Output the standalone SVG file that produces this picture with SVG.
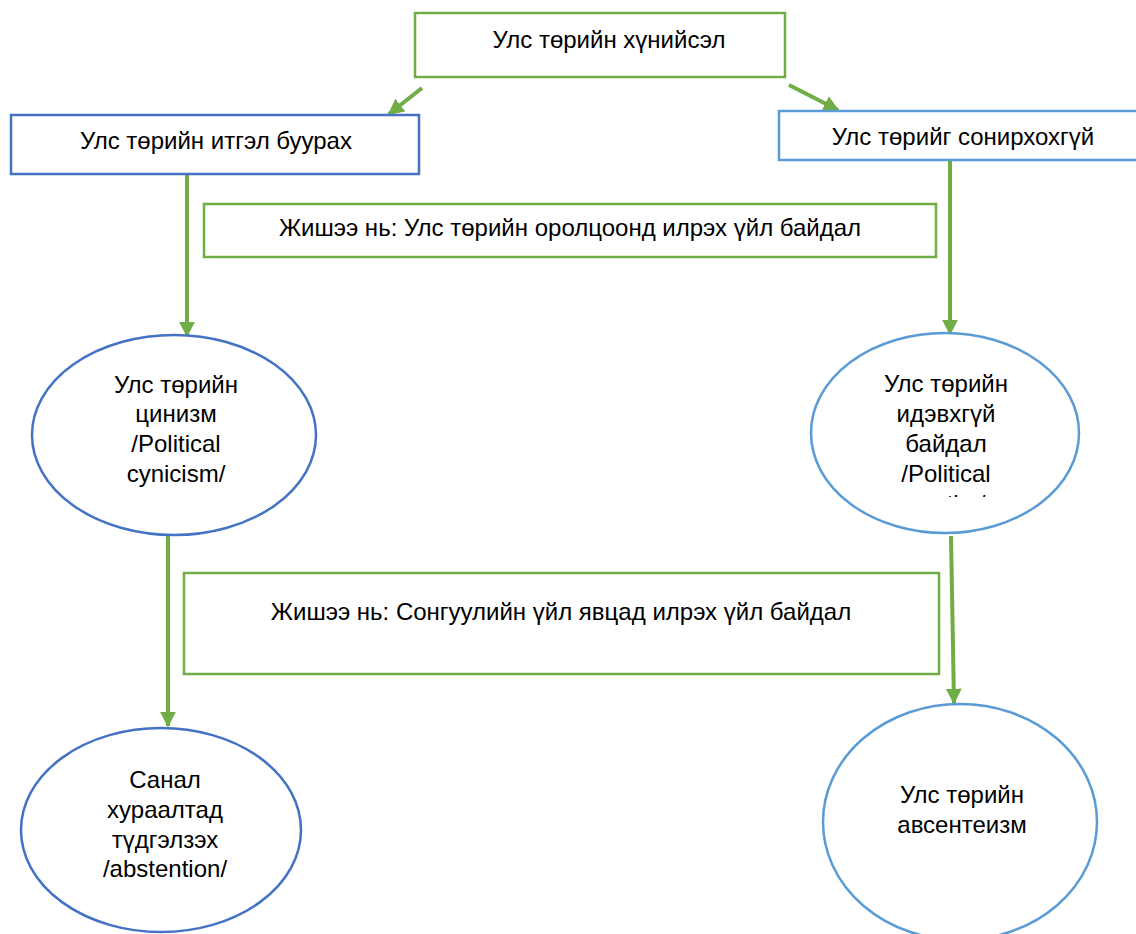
<svg xmlns="http://www.w3.org/2000/svg" width="1136" height="934" viewBox="0 0 1136 934">
<style>
text{font-family:"Liberation Sans",Arial,sans-serif;font-size:24px;fill:#000;text-anchor:middle}
.g{fill:#fff;stroke:#70AD47;stroke-width:2.5}
.b{fill:#fff;stroke:#4472C4;stroke-width:2.5}
.lb{fill:#fff;stroke:#5B9BD5;stroke-width:2.5}
.c{stroke:#70AD47;stroke-width:4;fill:none}
</style>
<defs>
<marker id="ah" viewBox="0 0 10 10" refX="9" refY="5" markerWidth="4" markerHeight="4" markerUnits="strokeWidth" orient="auto">
<path d="M0,0 L10,5 L0,10 z" fill="#70AD47"/>
</marker>
<clipPath id="clipR"><rect x="800" y="330" width="300" height="167"/></clipPath>
</defs>
<rect width="1136" height="934" fill="#fff"/>
<g id="connectors">
<line class="c" x1="422" y1="88" x2="389" y2="114" marker-end="url(#ah)"/>
<line class="c" x1="789" y1="85" x2="838" y2="110" marker-end="url(#ah)"/>
<line class="c" x1="187" y1="175" x2="187" y2="336" marker-end="url(#ah)"/>
<line class="c" x1="950" y1="161" x2="950" y2="334" marker-end="url(#ah)"/>
<line class="c" x1="168" y1="536" x2="168" y2="726" marker-end="url(#ah)"/>
<line class="c" x1="951" y1="536" x2="954" y2="703" marker-end="url(#ah)"/>
</g>
<g id="n-top">
<rect class="g" x="415" y="13" width="370" height="64"/>
<text x="609" y="48">Улс төрийн хүнийсэл</text>
</g>
<g id="n-left-box">
<rect class="b" x="11" y="115" width="408" height="59"/>
<text x="216" y="149">Улс төрийн итгэл буурах</text>
</g>
<g id="n-right-box">
<rect class="lb" x="779" y="111" width="370" height="49"/>
<text x="963" y="145">Улс төрийг сонирхохгүй</text>
</g>
<g id="n-example1">
<rect class="g" x="204" y="204" width="732" height="53"/>
<text x="570" y="236">Жишээ нь: Улс төрийн оролцоонд илрэх үйл байдал</text>
</g>
<g id="n-cynicism">
<ellipse class="b" cx="174" cy="435" rx="142" ry="100"/>
<text x="176" y="393">Улс төрийн</text>
<text x="176" y="422">цинизм</text>
<text x="176" y="452">/Political</text>
<text x="176" y="482">cynicism/</text>
</g>
<g id="n-apathy">
<ellipse class="lb" cx="945" cy="433" rx="134" ry="100"/>
<g clip-path="url(#clipR)">
<text x="946" y="392">Улс төрийн</text>
<text x="946" y="422">идэвхгүй</text>
<text x="946" y="452">байдал</text>
<text x="946" y="482">/Political</text>
<text x="946" y="512">apathy/</text>
</g>
</g>
<g id="n-example2">
<rect class="g" x="184" y="573" width="755" height="101"/>
<text x="561" y="620">Жишээ нь: Сонгуулийн үйл явцад илрэх үйл байдал</text>
</g>
<g id="n-abstention">
<ellipse class="b" cx="161" cy="830" rx="140" ry="102"/>
<text x="165" y="788">Санал</text>
<text x="165" y="818">хураалтад</text>
<text x="165" y="848">түдгэлзэх</text>
<text x="165" y="877">/abstention/</text>
</g>
<g id="n-absenteeism">
<ellipse class="lb" cx="960" cy="822" rx="137" ry="118"/>
<text x="962" y="803">Улс төрийн</text>
<text x="962" y="833">авсентеизм</text>
</g>
</svg>
